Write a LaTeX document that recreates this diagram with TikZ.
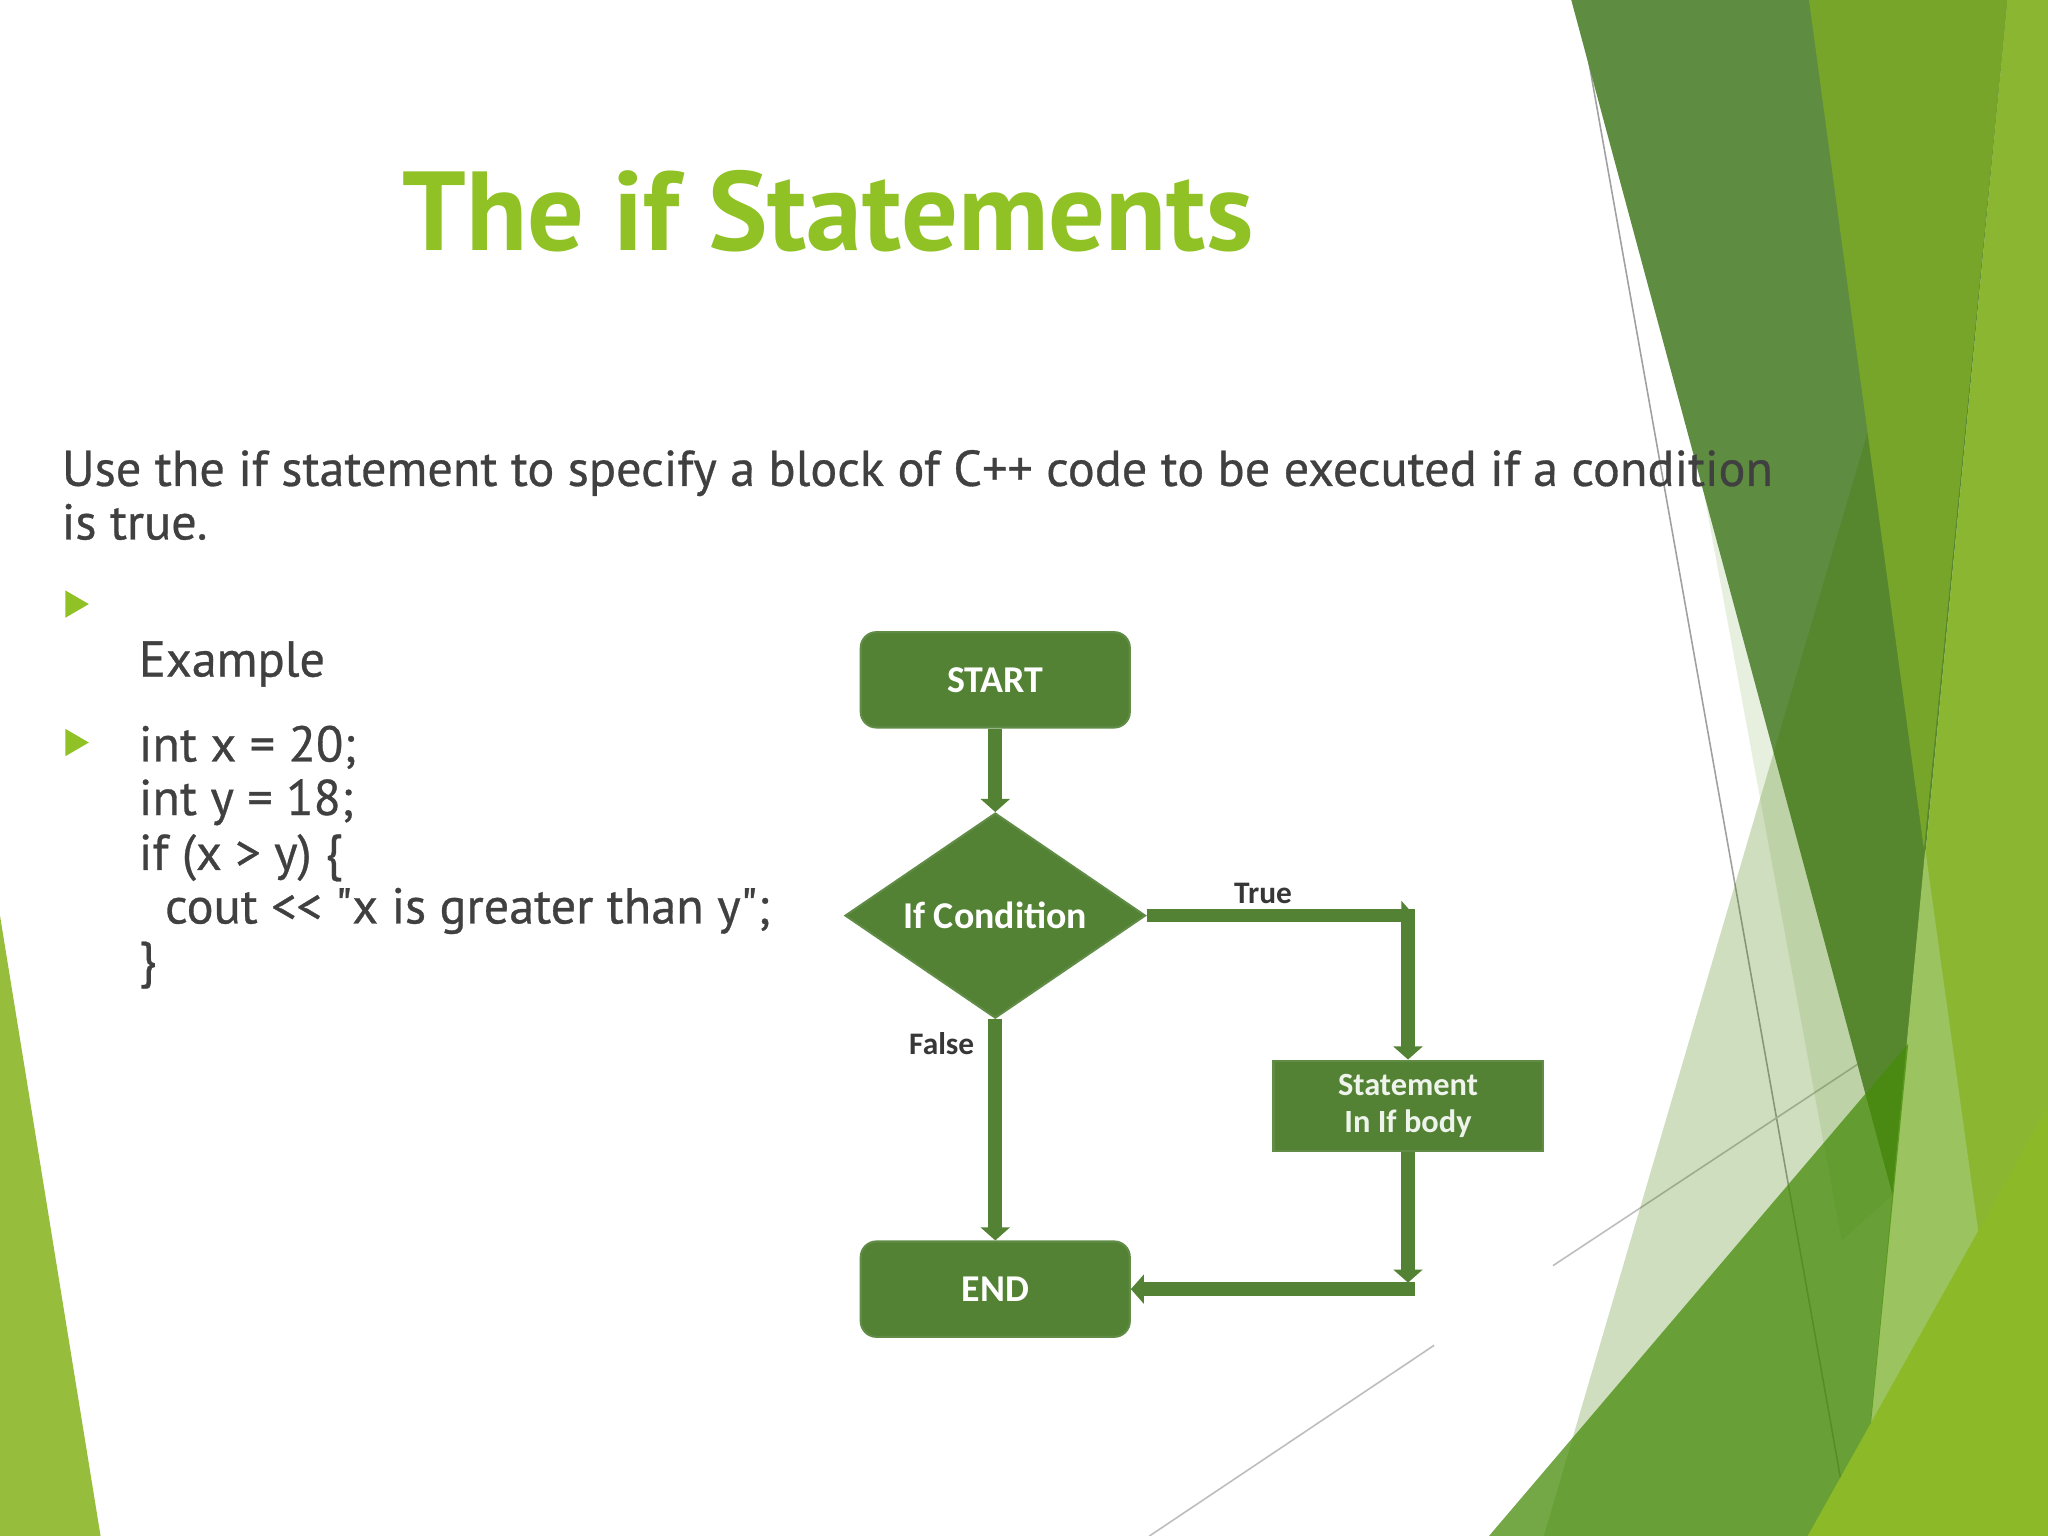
\documentclass[tikz,border=0pt]{standalone}
\usepackage{fontspec}
\setmainfont{PT Sans}[Ligatures=TeXOff]
\newfontfamily\bodyfont{PT Sans}[Ligatures=TeXOff, FakeBold=0.6]
\newfontfamily\fcfont{Carlito}
\usetikzlibrary{arrows.meta,shapes.geometric}
\definecolor{titlegreen}{RGB}{144,194,38}
\definecolor{bodygray}{RGB}{64,64,64}
\definecolor{lblgray}{RGB}{55,55,55}
\definecolor{fcgreen}{RGB}{84,130,53}
\definecolor{fcedge}{RGB}{96,140,70}
\definecolor{darkband}{RGB}{94,140,64}
\definecolor{olivegreen}{RGB}{119,165,42}
\definecolor{lightstrip}{RGB}{138,182,50}
\definecolor{lightover}{RGB}{155,195,95}
\definecolor{brightgreen}{RGB}{140,185,40}
\definecolor{wedgegreen}{RGB}{150,190,60}
\definecolor{tonegreen}{RGB}{64,124,0}
\definecolor{shadegreen}{RGB}{100,150,40}
\definecolor{midgreen}{RGB}{70,140,10}
\definecolor{decogray}{RGB}{160,160,160}
\tikzset{
  fcbox/.style={fill=fcgreen, draw=fcedge, line width=0.8pt, text=white,
    font=\fcfont\bfseries\fontsize{14.5}{16}\selectfont, inner sep=0pt},
  rbox/.style={fcbox, rounded corners=6pt, minimum width=103pt, minimum height=36.5pt},
  sbox/.style={fcbox, minimum width=103pt, minimum height=34.5pt, align=center,
    font=\fcfont\bfseries\fontsize{12.4}{14}\selectfont, text=white!90!fcgreen},
  decision/.style={fcbox, diamond, aspect=1.5, minimum width=115pt, minimum height=78.5pt},
  flow/.style={draw=fcgreen, line width=5.2pt, -{Triangle[width=11pt,length=5pt]}},
  flowlbl/.style={font=\fcfont\bfseries\fontsize{12}{14}\selectfont, text=lblgray, inner sep=0pt},
  bodytxt/.style={font=\bodyfont\fontsize{19.25}{22}\selectfont, text=bodygray, inner sep=0pt, anchor=base west},
  bulletmark/.style={fill=titlegreen},
  decoline/.style={draw=decogray, line width=0.6pt}
}
\begin{document}
\begin{tikzpicture}[x=0.5pt,y=-0.5pt]
\useasboundingbox (0,0) rectangle (1568,1176);
\fill[white] (0,0) rectangle (1568,1176);
% left wedge
\fill[wedgegreen] (0,701) -- (77,1176) -- (0,1176) -- cycle;
% thin decorative lines
\draw[decoline] (1208,0) -- (1417,1176);
\draw[decoline, draw=decogray!70] (880,1176) -- (1098,1030);
\draw[decoline, draw=decogray!70] (1189,969) -- (1425,813);
% right side decoration
\fill[shadegreen, opacity=0.15] (1235,0) -- (1400,0) -- (1449,915) -- (1410,950) -- cycle;
\fill[darkband] (1203,0) -- (1537,0) -- (1449,915) -- cycle;
\fill[tonegreen, opacity=0.25] (1527,0) -- (1568,0) -- (1568,1176) -- (1182,1176) -- cycle;
\fill[olivegreen] (1385,0) -- (1537,0) -- (1473,650) -- cycle;
\fill[lightstrip] (1537,0) -- (1568,0) -- (1568,1176) -- (1424,1176) -- cycle;
\fill[lightover] (1474,650) -- (1547,1176) -- (1424,1176) -- cycle;
\fill[midgreen, opacity=0.75] (1140,1176) -- (1461,799) -- (1424,1176) -- cycle;
\fill[brightgreen] (1568,847) -- (1384,1176) -- (1568,1176) -- cycle;
% title
\node[font=\bfseries\fontsize{43}{47}\selectfont, text=titlegreen, anchor=base west, inner sep=0pt] (title) at (308,192) {The if Statements};
% body text
\node[bodytxt] (line1) at (47,372) {Use the if statement to specify a block of C++ code to be executed if a condition};
\node[bodytxt] (line2) at (47,413) {is true.};
\fill[bulletmark] (50,452) -- (68,462.5) -- (50,473) -- cycle;
\node[bodytxt] (example) at (106,518) {Example};
\fill[bulletmark] (50,558) -- (68,568.5) -- (50,579) -- cycle;
\node[bodytxt] (code1) at (106,583) {int x = 20;};
\node[bodytxt] (code2) at (106,624) {int y = 18;};
\node[bodytxt] (code3) at (106,666) {if (x > y) \{};
\node[bodytxt] (code4) at (126,707) {cout << "x is greater than y";};
\node[bodytxt] (code5) at (106,748) {\}};
% flowchart
\node[rbox] (start) at (762,520.5) {START};
\node[decision] (cond) at (762,701) {If Condition};
\node[sbox] (stmt) at (1078,846.5) {Statement\\In If body};
\node[rbox] (end) at (762,987) {END};
\coordinate (c1) at (1083,701);
\coordinate (c1t) at (1078,696);
\coordinate (c2) at (1078,982);
\coordinate (c2r) at (1083,987);
\draw[flow] (start.south) -- (cond.north);
\draw[flow] (cond.east) -- (c1);
\draw[flow] (c1t) -- (stmt.north);
\draw[flow] (stmt.south) -- (c2);
\draw[flow] (c2r) -- (end.east);
\draw[flow] (cond.south) -- (end.north);
\node[flowlbl] (truelbl) at (967,684) {True};
\node[flowlbl] (falselbl) at (721,799) {False};
\end{tikzpicture}
\end{document}
